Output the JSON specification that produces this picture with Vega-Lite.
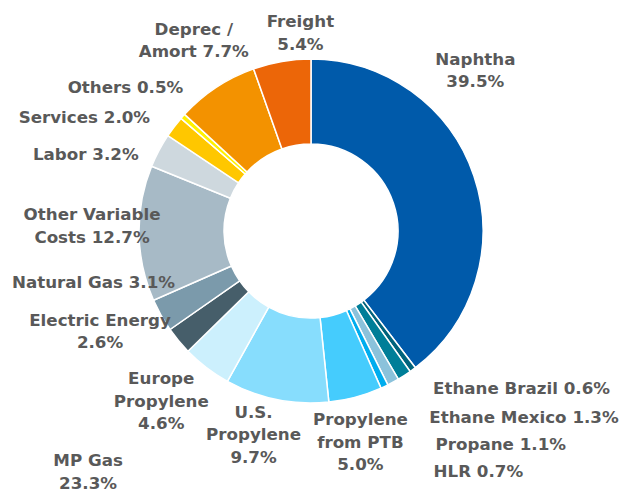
{
  "$schema": "https://vega.github.io/schema/vega-lite/v6.json",
  "width": 622,
  "height": 462,
  "autosize": {"type": "none"},
  "padding": {"left": 0, "right": 0, "top": 0, "bottom": 38},
  "background": "#ffffff",
  "data": {
    "values": [
      {"name": "Naphtha", "value": 39.5, "order": 1, "lines": ["Naphtha", "39.5%"]},
      {"name": "Ethane Brazil", "value": 0.6, "order": 2, "lines": ["Ethane Brazil 0.6%"]},
      {"name": "Ethane Mexico", "value": 1.3, "order": 3, "lines": ["Ethane Mexico 1.3%"]},
      {"name": "Propane", "value": 1.1, "order": 4, "lines": ["Propane 1.1%"]},
      {"name": "HLR", "value": 0.7, "order": 5, "lines": ["HLR 0.7%"]},
      {"name": "Propylene from PTB", "value": 5.0, "order": 6, "lines": ["Propylene", "from PTB", "5.0%"]},
      {"name": "U.S. Propylene", "value": 9.7, "order": 7, "lines": ["U.S.", "Propylene", "9.7%"]},
      {"name": "Europe Propylene", "value": 4.6, "order": 8, "lines": ["Europe", "Propylene", "4.6%"]},
      {"name": "Electric Energy", "value": 2.6, "order": 9, "lines": ["Electric Energy", "2.6%"]},
      {"name": "Natural Gas", "value": 3.1, "order": 10, "lines": ["Natural Gas 3.1%"]},
      {"name": "Other Variable Costs", "value": 12.7, "order": 11, "lines": ["Other Variable", "Costs 12.7%"]},
      {"name": "Labor", "value": 3.2, "order": 12, "lines": ["Labor 3.2%"]},
      {"name": "Services", "value": 2.0, "order": 13, "lines": ["Services 2.0%"]},
      {"name": "Others", "value": 0.5, "order": 14, "lines": ["Others 0.5%"]},
      {"name": "Deprec / Amort", "value": 7.7, "order": 15, "lines": ["Deprec /", "Amort 7.7%"]},
      {"name": "Freight", "value": 5.4, "order": 16, "lines": ["Freight", "5.4%"]}
    ]
  },
  "transform": [
    {"stack": "value", "groupby": [], "sort": [{"field": "order", "order": "ascending"}], "as": ["v0", "v1"]},
    {"calculate": "(datum.v0 + datum.v1) / 2", "as": "mid"}
  ],
  "layer": [
    {
      "mark": {"type": "arc", "innerRadius": 87, "outerRadius": 172, "stroke": "#ffffff", "strokeWidth": 1.5},
      "encoding": {
        "theta": {"field": "v1", "type": "quantitative", "stack": null, "scale": {"zero": true, "nice": false}},
        "theta2": {"field": "v0"},
        "color": {
          "field": "name",
          "type": "nominal",
          "legend": null,
          "scale": {
            "domain": ["Naphtha", "Ethane Brazil", "Ethane Mexico", "Propane", "HLR", "Propylene from PTB", "U.S. Propylene", "Europe Propylene", "Electric Energy", "Natural Gas", "Other Variable Costs", "Labor", "Services", "Others", "Deprec / Amort", "Freight"],
            "range": ["#005AAA", "#00637C", "#007E98", "#8BC2DB", "#00ADEE", "#45CCFD", "#87DDFD", "#CCF0FD", "#465E6A", "#7B9AAB", "#A7BAC6", "#CED8DE", "#FFC700", "#FFF200", "#F39200", "#EC6608"]
          }
        }
      }
    },
    {
      "encoding": {
        "theta": {"field": "mid", "type": "quantitative", "stack": null, "scale": {"zero": true, "nice": false}},
        "text": {"field": "lines"}
      },
      "layer": [
        {"transform": [{"filter": "datum.name === 'Naphtha'"}], "mark": {"type": "text", "radius": 222, "dx": -46, "dy": -100}},
        {"transform": [{"filter": "datum.name === 'Freight'"}], "mark": {"type": "text", "radius": 222, "dx": 27, "dy": 10}},
        {"transform": [{"filter": "datum.name === 'Deprec / Amort'"}], "mark": {"type": "text", "radius": 222, "dx": 5, "dy": -16}},
        {"transform": [{"filter": "datum.name === 'Others'"}], "mark": {"type": "text", "radius": 222, "dx": -20, "dy": 5}},
        {"transform": [{"filter": "datum.name === 'Services'"}], "mark": {"type": "text", "radius": 222, "dx": -50, "dy": 21}},
        {"transform": [{"filter": "datum.name === 'Labor'"}], "mark": {"type": "text", "radius": 222, "dx": -29, "dy": 28}},
        {"transform": [{"filter": "datum.name === 'Other Variable Costs'"}], "mark": {"type": "text", "radius": 222, "dx": 3, "dy": -19}},
        {"transform": [{"filter": "datum.name === 'Natural Gas'"}], "mark": {"type": "text", "radius": 222, "dx": -24, "dy": -57}},
        {"transform": [{"filter": "datum.name === 'Electric Energy'"}], "mark": {"type": "text", "radius": 222, "dx": -40, "dy": -52}},
        {"transform": [{"filter": "datum.name === 'Europe Propylene'"}], "mark": {"type": "text", "radius": 222, "dx": -15, "dy": -28}},
        {"transform": [{"filter": "datum.name === 'U.S. Propylene'"}], "mark": {"type": "text", "radius": 222, "dx": -13, "dy": -36}},
        {"transform": [{"filter": "datum.name === 'Propylene from PTB'"}], "mark": {"type": "text", "radius": 222, "dx": -8, "dy": -25}},
        {"transform": [{"filter": "datum.name === 'Ethane Brazil'"}], "mark": {"type": "text", "align": "left", "radius": 196, "dx": 6, "dy": 0}},
        {"transform": [{"filter": "datum.name === 'Ethane Mexico'"}], "mark": {"type": "text", "align": "left", "radius": 218, "dx": 0, "dy": 4}},
        {"transform": [{"filter": "datum.name === 'Propane'"}], "mark": {"type": "text", "align": "left", "radius": 242, "dx": 9, "dy": 1}},
        {"transform": [{"filter": "datum.name === 'HLR'"}], "mark": {"type": "text", "align": "left", "radius": 266, "dx": 9, "dy": 0}}
      ]
    },
    {
      "transform": [{"filter": "datum.name === 'Europe Propylene'"}],
      "mark": {"type": "text", "radius": 327, "dx": 11, "dy": 2, "text": ["MP Gas", "23.3%"]},
      "encoding": {
        "theta": {"field": "v1", "type": "quantitative", "stack": null, "scale": {"zero": true, "nice": false}}
      }
    }
  ],
  "config": {
    "view": {"stroke": null},
    "text": {"font": "DejaVu Sans", "fontSize": 16.7, "fontWeight": "bold", "color": "#595959", "fill": "#595959", "lineHeight": 22.5, "baseline": "middle", "align": "center"}
  }
}
